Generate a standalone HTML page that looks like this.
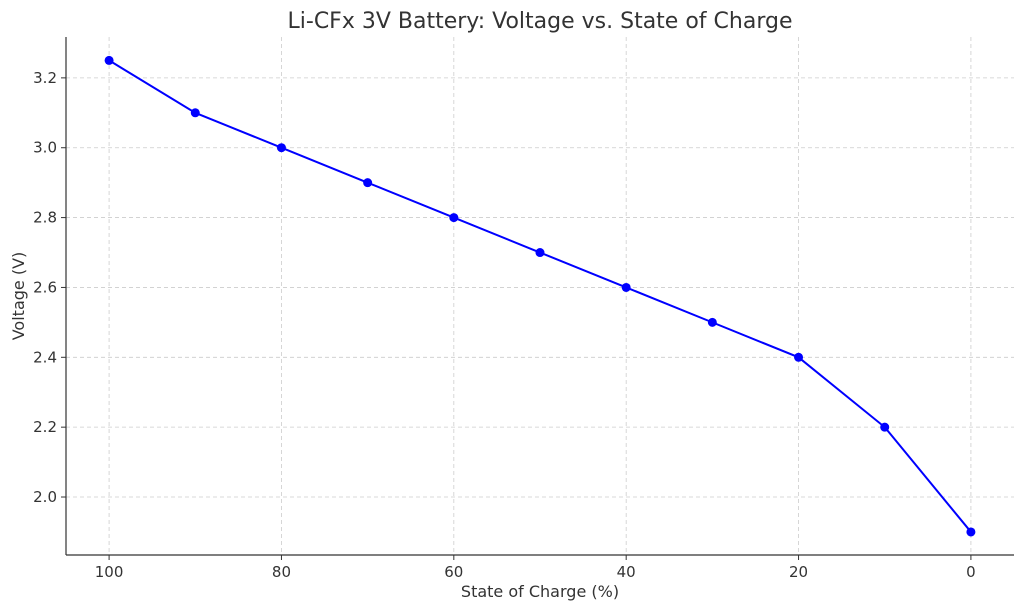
<!DOCTYPE html>
<html><head><meta charset="utf-8"><style>
html,body{margin:0;padding:0;background:#fff;}
svg{display:block;font-family:"DejaVu Sans","Liberation Sans",sans-serif;}
</style></head><body>
<svg id="chart" width="1024" height="611" viewBox="0 0 1024 611">
<text x="540" y="28" text-anchor="middle" font-size="22" fill="#333">Li-CFx 3V Battery: Voltage vs. State of Charge</text>
<g id="grid"></g>
<g id="axes"></g>
<g id="series"></g>
<text x="540" y="597" text-anchor="middle" font-size="16" fill="#333">State of Charge (%)</text>
<text transform="translate(24,296) rotate(-90)" text-anchor="middle" font-size="16" fill="#333">Voltage (V)</text>
</svg>
<script>
const soc = [100, 90, 80, 70, 60, 50, 40, 30, 20, 10, 0];
const voltage = [3.25, 3.1, 3.0, 2.9, 2.8, 2.7, 2.6, 2.5, 2.4, 2.2, 1.9];
const xTicks = [100, 80, 60, 40, 20, 0];
const yTicks = [2.0, 2.2, 2.4, 2.6, 2.8, 3.0, 3.2];

const L=66,R=1014,T=37,B=555;
const xMin=105,xMax=-5,yMin=1.834,yMax=3.317;
const sx=v=>L+(v-xMin)/(xMax-xMin)*(R-L);
const sy=v=>B-(v-yMin)/(yMax-yMin)*(B-T);
const NS="http://www.w3.org/2000/svg";
function mk(tag,attrs,parent){const e=document.createElementNS(NS,tag);for(const k in attrs)e.setAttribute(k,attrs[k]);parent.appendChild(e);return e;}
const grid=document.getElementById('grid'),axes=document.getElementById('axes'),series=document.getElementById('series');
xTicks.forEach(t=>{
  const x=sx(t);
  const g=mk('line',{x1:x,x2:x,y1:T,y2:B,stroke:'#ccc','stroke-dasharray':'4,3','stroke-width':0.8},grid);
  
  
  const tk=mk('line',{x1:x,x2:x,y1:B,y2:B+5,stroke:'#333'},axes);
  
  
  const lb=mk('text',{x:x,y:B+22,'text-anchor':'middle','font-size':15,fill:'#333'},axes);
  lb.textContent=t;
  
  
});
yTicks.forEach(t=>{
  const y=sy(t);
  const g=mk('line',{x1:L,x2:R,y1:y,y2:y,stroke:'#ccc','stroke-dasharray':'4,3','stroke-width':0.8},grid);
  
  
  const tk=mk('line',{x1:L-5,x2:L,y1:y,y2:y,stroke:'#333'},axes);
  
  
  const lb=mk('text',{x:L-9,y:y+5,'text-anchor':'end','font-size':15,fill:'#333'},axes);
  lb.textContent=t.toFixed(1);
  
  
});
const ya=mk('line',{x1:L,x2:L,y1:T,y2:B,stroke:'#333','stroke-width':1.2},axes);


const xa=mk('line',{x1:L,x2:R,y1:B,y2:B,stroke:'#333','stroke-width':1.2},axes);


const pts=soc.map((s,i)=>sx(s)+','+sy(voltage[i])).join(' ');
const line=mk('polyline',{points:pts,fill:'none',stroke:'#0000ff','stroke-width':2},series);


soc.forEach((s,i)=>{
  const c=mk('circle',{cx:sx(s),cy:sy(voltage[i]),r:4.5,fill:'#0000ff'},series);
  
  
});
</script>
</body></html>
